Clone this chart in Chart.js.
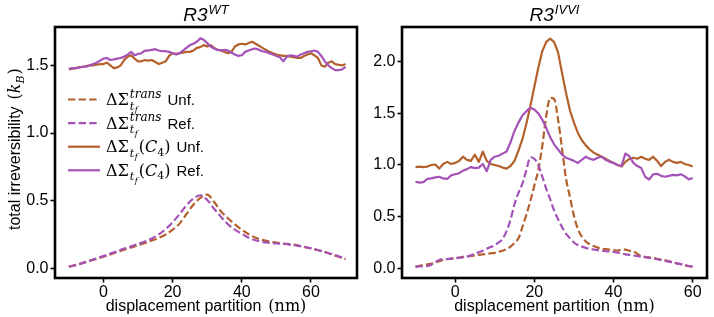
<!DOCTYPE html>
<html><head><meta charset="utf-8">
<script src="https://cdn.jsdelivr.net/npm/chart.js@4.4.1/dist/chart.umd.min.js"></script>
<style>
html,body{margin:0;padding:0;background:#fff;}
#wrap{position:relative;width:714px;height:317px;overflow:hidden;background:#fff;}
#c1{position:absolute;left:0;top:0;}
#c2{position:absolute;left:360px;top:0;}
</style></head><body>
<div id="wrap"><canvas id="c1" width="360" height="317"></canvas><canvas id="c2" width="354" height="317"></canvas></div>
<script>
// ---------- DATA ----------
const wtSolidX = [-10,-9,-8,-7,-6,-5,-4,-3,-2,-1,0,1,2,3,4,5,6,7,8,9,10,11,12,13,14,15,16,17,18,19,20,21,22,23,24,25,26,27,28,29,30,31,32,33,34,35,36,37,38,39,40,41,42,43,44,45,46,47,48,49,50,51,52,53,54,55,56,57,58,59,60,61,62,63,64,65,66,67,68,69,70];
const wtC4Unf = [1.47,1.475,1.48,1.485,1.49,1.495,1.50,1.50,1.505,1.51,
 1.51,1.52,1.50,1.48,1.485,1.50,1.54,1.565,1.575,1.55,
 1.53,1.53,1.54,1.535,1.54,1.525,1.51,1.52,1.53,1.57,
 1.59,1.585,1.59,1.595,1.60,1.60,1.61,1.63,1.635,1.65,
 1.64,1.65,1.63,1.615,1.61,1.60,1.59,1.60,1.64,1.655,
 1.66,1.655,1.665,1.675,1.66,1.645,1.63,1.615,1.60,1.59,
 1.58,1.575,1.57,1.57,1.565,1.56,1.555,1.555,1.57,1.58,
 1.59,1.575,1.555,1.50,1.49,1.52,1.53,1.51,1.505,1.50,
 1.51];
const wtC4Ref = [1.475,1.48,1.48,1.485,1.49,1.49,1.50,1.51,1.52,1.535,
 1.55,1.555,1.54,1.545,1.55,1.555,1.565,1.58,1.60,1.575,
 1.585,1.59,1.61,1.61,1.615,1.62,1.61,1.605,1.605,1.60,
 1.59,1.58,1.59,1.61,1.63,1.65,1.66,1.675,1.70,1.69,
 1.665,1.64,1.625,1.615,1.61,1.615,1.61,1.595,1.58,1.57,
 1.575,1.60,1.61,1.62,1.625,1.615,1.605,1.60,1.59,1.58,
 1.57,1.56,1.53,1.565,1.575,1.57,1.565,1.58,1.59,1.60,
 1.605,1.61,1.60,1.57,1.53,1.50,1.48,1.465,1.465,1.47,
 1.49];
const wtDashX = [-10,-8,-6,-4,-2,0,2,4,6,8,10,12,14,16,18,20,22,24,26,28,30,32,34,36,38,40,42,44,46,48,50,52,54,56,58,60,62,64,66,68,70];
const wtTransUnf = [0.012,0.025,0.04,0.055,0.07,
 0.086,0.103,0.12,0.137,0.154,
 0.17,0.187,0.205,0.225,0.25,
 0.285,0.33,0.40,0.47,0.52,
 0.545,0.49,0.42,0.37,0.325,
 0.285,0.252,0.225,0.21,0.198,
 0.19,0.183,0.177,0.17,0.158,
 0.147,0.133,0.12,0.102,0.085,
 0.068];
const wtTransRef = [0.012,0.022,0.038,0.055,0.072,
 0.09,0.108,0.126,0.145,0.162,
 0.18,0.198,0.22,0.25,0.29,
 0.34,0.40,0.465,0.515,0.54,
 0.505,0.44,0.38,0.325,0.285,
 0.255,0.225,0.207,0.195,0.188,
 0.183,0.18,0.175,0.167,0.158,
 0.148,0.135,0.12,0.105,0.088,
 0.07];

const ivviX = [-10,-9,-8,-7,-6,-5,-4,-3,-2,-1,0,1,2,3,4,5,6,7,8,9,10,11,12,13,14,15,16,17,18,19,20,21,22,23,24,25,26,27,28,29,30,31,32,33,34,35,36,37,38,39,40,41,42,43,44,45,46,47,48,49,50,51,52,53,54,55,56,57,58,59,60];
const ivviC4Unf = [0.98,0.985,0.98,0.985,1.0,1.005,0.965,1.01,1.03,1.01,
 1.02,1.04,1.08,1.05,1.04,1.10,1.03,1.13,1.04,1.01,
 1.0,0.99,0.975,0.965,0.99,1.04,1.14,1.25,1.40,1.57,
 1.756,1.94,2.10,2.19,2.225,2.19,2.09,1.89,1.70,1.53,
 1.41,1.31,1.24,1.19,1.15,1.12,1.10,1.08,1.06,1.04,
 1.02,1.00,0.985,1.03,1.06,1.07,1.06,1.08,1.06,1.05,
 1.08,1.04,0.99,1.03,1.05,1.03,1.02,1.03,1.01,1.0,
 0.985];
const ivviC4Ref = [0.838,0.83,0.835,0.865,0.87,0.88,0.886,0.87,0.865,0.90,
 0.91,0.92,0.945,0.96,0.98,0.97,0.975,1.01,0.94,1.05,
 1.08,1.09,1.11,1.13,1.22,1.33,1.41,1.48,1.52,1.555,
 1.537,1.50,1.44,1.36,1.27,1.20,1.15,1.10,1.07,1.055,
 1.04,1.02,1.05,1.08,1.06,1.05,1.07,1.08,1.05,1.03,
 1.02,1.0,0.99,1.11,1.085,1.02,0.99,0.97,0.885,0.86,
 0.91,0.915,0.895,0.886,0.895,0.905,0.90,0.91,0.89,0.86,
 0.875];
const ivviTransUnf = [0.016,0.025,0.03,0.038,0.045,0.055,0.068,0.08,0.088,0.093,
 0.097,0.103,0.11,0.115,0.12,0.125,0.13,0.135,0.14,0.145,
 0.15,0.16,0.17,0.185,0.21,0.245,0.29,0.40,0.52,0.65,
 0.80,0.95,1.18,1.47,1.65,1.64,1.44,1.16,0.87,0.69,
 0.51,0.38,0.306,0.26,0.232,0.215,0.20,0.19,0.185,0.18,
 0.175,0.172,0.18,0.18,0.17,0.165,0.14,0.12,0.11,0.105,
 0.10,0.092,0.086,0.078,0.068,0.058,0.048,0.04,0.03,0.02,
 0.014];
const ivviTransRef = [0.016,0.018,0.02,0.022,0.035,0.06,0.08,0.087,0.09,0.094,
 0.097,0.102,0.107,0.113,0.125,0.14,0.155,0.17,0.19,0.205,
 0.225,0.25,0.285,0.36,0.47,0.62,0.73,0.82,0.95,1.075,
 1.06,1.0,0.89,0.77,0.67,0.56,0.475,0.40,0.335,0.29,
 0.25,0.225,0.21,0.198,0.188,0.182,0.176,0.17,0.165,0.162,
 0.158,0.152,0.145,0.135,0.13,0.125,0.118,0.112,0.108,0.102,
 0.095,0.088,0.08,0.072,0.065,0.058,0.048,0.04,0.032,0.022,
 0.016];

const xTicksWT = [0,20,40,60];
const yTicksWT = [0,0.5,1.0,1.5];
const xTicksIVVI = [0,20,40,60];
const yTicksIVVI = [0,0.5,1.0,1.5,2.0];
const legendTags = ['Unf.','Ref.','Unf.','Ref.'];

// ---------- STYLE ----------
const BROWN = '#b4602c';
const PURPLE = '#a552b8';
const DASH = [7.4,3.2];
const SANS = '"Liberation Sans", Arial, sans-serif';
const SERIF = '"DejaVu Serif", "Liberation Serif", serif';

function pts(xs, ys){ return xs.map((x,i)=>({x:x, y:ys[i]})); }
function ds(xs, ys, color, dashed, order){
  return {data: pts(xs, ys), borderColor: color, backgroundColor: color, borderWidth: 2.2,
    borderDash: dashed ? DASH : [], pointRadius: 0, pointHoverRadius: 0, fill: false,
    tension: 0, cubicInterpolationMode: dashed ? 'monotone' : 'default', order: order,
    borderCapStyle: 'butt', borderJoinStyle: 'round'};
}

function scales(xmin,xmax,xt,ymin,ymax,yt,leftW,bottomH){
  const tickFont = {family: SANS, size: 16};
  return {
    x: {type:'linear', min:xmin, max:xmax,
      afterBuildTicks: s => { s.ticks = xt.map(v=>({value:v})); },
      afterFit: s => { s.height = bottomH; },
      ticks: {color:'#000', font: tickFont, padding: 0, maxRotation:0, autoSkip:false, callback: v => String(v)},
      grid: {display:true, drawOnChartArea:false, drawTicks:true, tickLength:4.5, tickWidth:1.6, tickColor:'#000'},
      border: {display:false}},
    y: {type:'linear', min:ymin, max:ymax,
      afterBuildTicks: s => { s.ticks = yt.map(v=>({value:v})); },
      afterFit: s => { s.width = leftW; },
      ticks: {color:'#000', font: tickFont, padding: 2, autoSkip:false, callback: v => Number(v).toFixed(1)},
      grid: {display:true, drawOnChartArea:false, drawTicks:true, tickLength:4.5, tickWidth:1.6, tickColor:'#000'},
      border: {display:false}}
  };
}

const framePlugin = {
  id:'frame',
  afterDatasetsDraw(chart){
    const a = chart.chartArea, ctx = chart.ctx;
    ctx.save(); ctx.strokeStyle='#000'; ctx.lineWidth=2.6; ctx.setLineDash([]);
    ctx.strokeRect(a.left, a.top, a.right-a.left, a.bottom-a.top);
    ctx.restore();
  }
};

function drawRuns(ctx, x, y, runs){
  let cx = x;
  for (const r of runs){ ctx.font = r.f; cx += (r.dx||0); ctx.fillText(r.t, cx, y + (r.dy||0)); cx += ctx.measureText(r.t).width; }
  return cx;
}
function runsWidth(ctx, runs){
  let w = 0; for (const r of runs){ ctx.font = r.f; w += ctx.measureText(r.t).width + (r.dx||0); } return w;
}

function drawTitle(ctx, cx, sup){
  const runs = [{t:'R3', f:'italic 19px '+SANS}, {t:sup, f:'italic 13px '+SANS, dy:-7, dx:1}];
  const w = runsWidth(ctx, runs);
  drawRuns(ctx, cx - w/2, 21, runs);
}
function drawXLabel(ctx, cx){
  const runs = [{t:'displacement partition', f:'16px '+SANS}, {t:'(nm)', f:'16px '+SERIF, dx:7}];
  const w = runsWidth(ctx, runs);
  drawRuns(ctx, cx - w/2, 311, runs);
}

const textPluginL = {
  id:'textL',
  afterDraw(chart){
    const ctx = chart.ctx, a = chart.chartArea;
    ctx.save(); ctx.fillStyle='#000'; ctx.textBaseline='alphabetic'; ctx.textAlign='left';
    drawTitle(ctx, (a.left+a.right)/2, 'WT');
    drawXLabel(ctx, (a.left+a.right)/2);
    // y label
    ctx.save(); ctx.translate(20, 230); ctx.rotate(-Math.PI/2);
    let ex = drawRuns(ctx, 0, 0, [{t:'total irreversibility', f:'16px '+SANS}, {t:'(', f:'16px '+SERIF, dx:7}, {t:'k', f:'italic 16px '+SERIF}]);
    ex = drawRuns(ctx, ex, 0, [{t:'B', f:'italic 11px '+SERIF, dy:4}]);
    drawRuns(ctx, ex, 0, [{t:')', f:'16px '+SERIF, dx:1}]);
    ctx.restore();
    // legend
    const colors = [BROWN, PURPLE, BROWN, PURPLE];
    const dashed = [true, true, false, false];
    for (let i=0;i<4;i++){
      const yc = 99.5 + i*23.6;
      ctx.save(); ctx.strokeStyle = colors[i]; ctx.lineWidth = 2.2; ctx.setLineDash(dashed[i]?DASH:[]);
      ctx.beginPath(); ctx.moveTo(68, yc); ctx.lineTo(100, yc); ctx.stroke(); ctx.restore();
      let x = drawRuns(ctx, 106, yc+5.5, [{t:'ΔΣ', f:'16px '+SERIF}]);
      const sx = x + 1;
      ctx.font = 'italic 11px '+SERIF;
      const wt = ctx.measureText('t').width;
      ctx.fillText('t', sx, yc+10);
      ctx.font = 'italic 8px '+SERIF;
      ctx.fillText('f', sx+wt+0.5, yc+12.5);
      const wsub = wt + 0.5 + ctx.measureText('f').width;
      let end;
      if (dashed[i]){
        ctx.font = 'italic 12px '+SERIF;
        ctx.fillText('trans', sx, yc-2);
        end = sx + Math.max(ctx.measureText('trans').width, wsub);
      } else {
        end = drawRuns(ctx, sx + wsub + 1, yc+5.5, [{t:'(', f:'16px '+SERIF}, {t:'C', f:'italic 16px '+SERIF}]);
        end = drawRuns(ctx, end, yc+9, [{t:'4', f:'11px '+SERIF}]);
        end = drawRuns(ctx, end, yc+5.5, [{t:')', f:'16px '+SERIF}]);
      }
      drawRuns(ctx, end + 6, yc+5.5, [{t:legendTags[i], f:'15px '+SANS}]);
    }
    ctx.restore();
  }
};
const textPluginR = {
  id:'textR',
  afterDraw(chart){
    const ctx = chart.ctx, a = chart.chartArea;
    ctx.save(); ctx.fillStyle='#000'; ctx.textBaseline='alphabetic'; ctx.textAlign='left';
    drawTitle(ctx, (a.left+a.right)/2, 'IVVI');
    drawXLabel(ctx, (a.left+a.right)/2);
    ctx.restore();
  }
};

const common = {responsive:false, animation:false, devicePixelRatio:1,
  plugins:{legend:{display:false}, tooltip:{enabled:false}, title:{display:false}}, events:[]};

new Chart(document.getElementById('c1'), {
  type:'line',
  data:{datasets:[
    ds(wtDashX, wtTransUnf, BROWN, true, 4),
    ds(wtDashX, wtTransRef, PURPLE, true, 3),
    ds(wtSolidX, wtC4Unf, BROWN, false, 2),
    ds(wtSolidX, wtC4Ref, PURPLE, false, 1)
  ]},
  options: Object.assign({}, common, {
    layout:{padding:{top:27, right:3, left:0, bottom:0}},
    scales: scales(-14, 73.3, xTicksWT, -0.072, 1.784, yTicksWT, 55, 39)
  }),
  plugins:[framePlugin, textPluginL]
});

new Chart(document.getElementById('c2'), {
  type:'line',
  data:{datasets:[
    ds(ivviX, ivviTransUnf, BROWN, true, 4),
    ds(ivviX, ivviTransRef, PURPLE, true, 3),
    ds(ivviX, ivviC4Unf, BROWN, false, 2),
    ds(ivviX, ivviC4Ref, PURPLE, false, 1)
  ]},
  options: Object.assign({}, common, {
    layout:{padding:{top:27, right:7, left:0, bottom:0}},
    scales: scales(-13.4, 63.6, xTicksIVVI, -0.094, 2.336, yTicksIVVI, 42, 39)
  }),
  plugins:[framePlugin, textPluginR]
});
</script>
</body></html>
